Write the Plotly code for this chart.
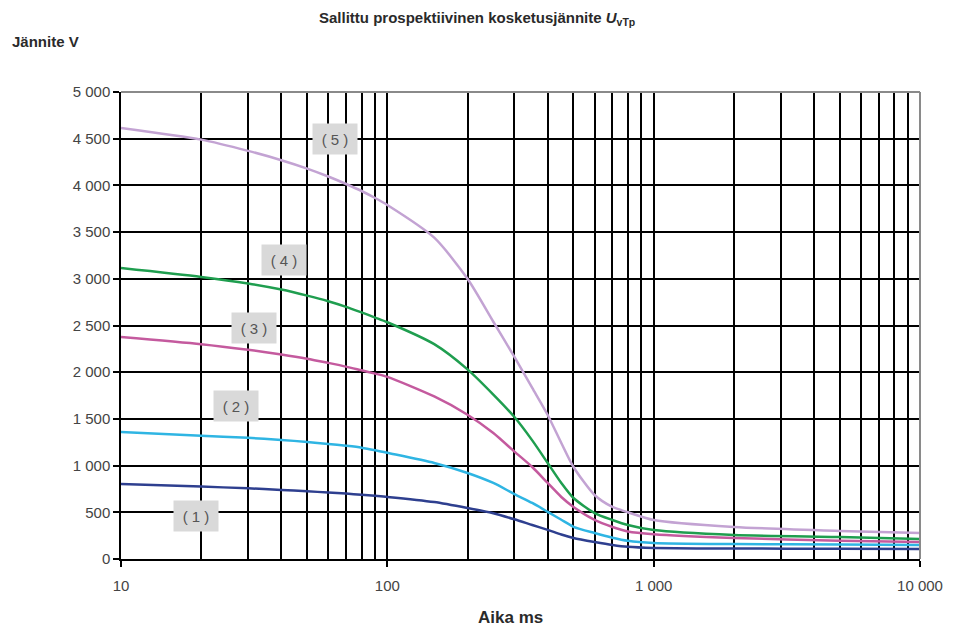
import math
import plotly.graph_objects as go

time_ms = [10, 20, 30, 40, 50, 60, 70, 80, 90, 100, 150, 200, 250, 300, 350, 400,
           450, 500, 600, 700, 800, 1000, 2000, 5000, 10000]

curve1 = [803, 775, 757, 740, 725, 712, 700, 688, 676, 665, 610, 546, 490, 425, 364, 312,
          262, 225, 182, 150, 130, 118, 112, 110, 107]
curve2 = [1360, 1320, 1297, 1275, 1253, 1232, 1212, 1192, 1165, 1137, 1028, 921, 814, 695, 600, 505,
          420, 345, 278, 228, 195, 172, 160, 155, 150]
curve3 = [2377, 2300, 2240, 2190, 2145, 2100, 2060, 2020, 1985, 1950, 1740, 1545, 1349, 1150, 985, 814,
          664, 557, 418, 343, 295, 265, 225, 195, 182]
curve4 = [3115, 3020, 2950, 2885, 2820, 2760, 2700, 2640, 2585, 2535, 2300, 2030, 1760, 1520, 1270, 1028,
          814, 653, 492, 418, 364, 310, 257, 235, 214]
curve5 = [4615, 4490, 4370, 4270, 4180, 4095, 4015, 3940, 3865, 3790, 3440, 3000, 2540, 2163, 1831, 1542,
          1242, 985, 685, 557, 500, 418, 343, 300, 278]

curve_names = ["( 1 )", "( 2 )", "( 3 )", "( 4 )", "( 5 )"]
label_time = [19.1, 27.0, 31.6, 40.9, 63.6]
label_volt = [460, 1638, 2473, 3201, 4497]

y_ticks = [0, 500, 1000, 1500, 2000, 2500, 3000, 3500, 4000, 4500, 5000]
y_ticktext = ["0", "500", "1 000", "1 500", "2 000", "2 500", "3 000", "3 500", "4 000", "4 500", "5 000"]
x_ticks = [10, 100, 1000, 10000]
x_ticktext = ["10", "100", "1 000", "10 000"]
x_minor = [m * d for d in (10, 100, 1000) for m in range(2, 10)]

colors = ["#2e3f8f", "#2fb5e3", "#c45a9e", "#1f9e4f", "#c3a3d3"]
series = [curve1, curve2, curve3, curve4, curve5]

font_main = "Liberation Sans, Arial, sans-serif"

fig = go.Figure()
for name, ys, c in zip(curve_names, series, colors):
    fig.add_trace(go.Scatter(x=time_ms, y=ys, mode="lines", name=name,
                             line=dict(color=c, width=2.5, shape="spline", smoothing=0.7),
                             showlegend=False))

for name, lx, ly in zip(curve_names, label_time, label_volt):
    fig.add_annotation(x=math.log10(lx), y=ly, xref="x", yref="y",
                       text=name, showarrow=False, bgcolor="#d9d9d9",
                       width=42, height=28, align="center", valign="middle",
                       font=dict(family=font_main, size=15, color="#555555"))

fig.add_annotation(x=0.446, y=1.158, xref="paper", yref="paper",
                   text="<b>Sallittu prospektiivinen kosketusjännite <i>U</i><sub>vTp</sub></b>",
                   showarrow=False, xanchor="center", yanchor="middle",
                   font=dict(family=font_main, size=15, color="#2a2a2a"))
fig.add_annotation(x=-0.139, y=1.109, xref="paper", yref="paper",
                   text="<b>Jännite V</b>", showarrow=False, xanchor="left", yanchor="middle",
                   font=dict(family=font_main, size=15, color="#2a2a2a"))
fig.add_annotation(x=0.488, y=-0.126, xref="paper", yref="paper",
                   text="<b>Aika ms</b>", showarrow=False, xanchor="center", yanchor="middle",
                   font=dict(family=font_main, size=17, color="#2a2a2a"))

fig.update_xaxes(type="log", range=[1, 4], tickvals=x_ticks, ticktext=x_ticktext,
                 showgrid=True, gridcolor="black", gridwidth=1.5,
                 ticks="outside", ticklen=6, tickcolor="black", tickwidth=1.5,
                 ticklabelstandoff=6,
                 showline=True, linecolor="black", linewidth=1.5,
                 minor=dict(tickvals=x_minor, showgrid=True, gridcolor="black", gridwidth=1.5, ticks=""),
                 tickfont=dict(family=font_main, size=15, color="#444444"),
                 zeroline=False)
fig.update_yaxes(range=[0, 5000], tickvals=y_ticks, ticktext=y_ticktext,
                 showgrid=True, gridcolor="black", gridwidth=1.5,
                 ticks="outside", ticklen=6, tickcolor="black", tickwidth=1.5,
                 showline=True, linecolor="black", linewidth=1.5,
                 tickfont=dict(family=font_main, size=15, color="#444444"),
                 zeroline=False)

fig.add_shape(type="line", xref="paper", yref="paper", x0=0, x1=1, y0=1, y1=1,
              line=dict(color="#8a8a8a", width=2))
fig.add_shape(type="line", xref="paper", yref="paper", x0=1, x1=1, y0=0, y1=1,
              line=dict(color="#8a8a8a", width=2))

fig.update_layout(width=955, height=630,
                  margin=dict(l=121, r=35, t=92, b=71),
                  plot_bgcolor="white", paper_bgcolor="white",
                  font=dict(family=font_main))

fig.write_html("out.html")
